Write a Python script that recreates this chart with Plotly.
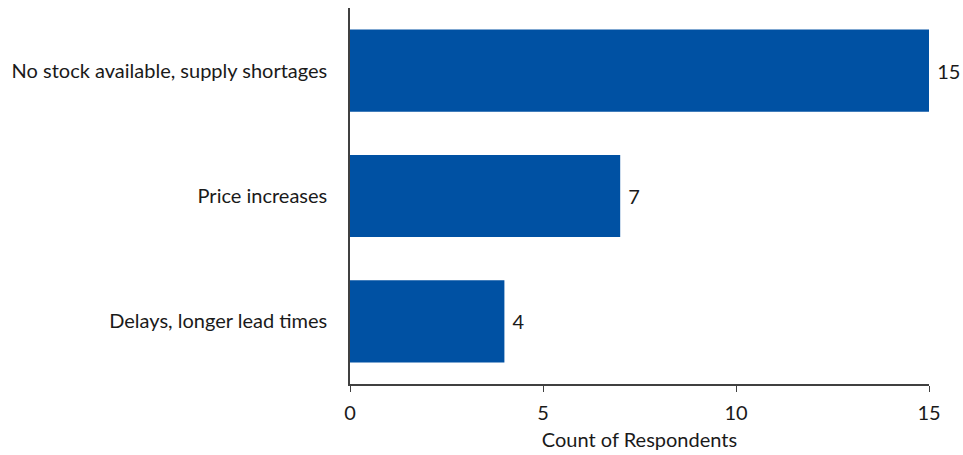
import plotly.graph_objects as go

# Survey responses: problems encountered with supply
categories = ["No stock available, supply shortages", "Price increases", "Delays, longer lead times"]
counts = [15, 7, 4]
x_ticks = [0, 5, 10, 15]

font_family = "Lato, 'Open Sans', sans-serif"
font_size = 20
text_color = "#1a1a1a"
axis_color = "#404040"

fig = go.Figure(
    go.Bar(
        x=counts,
        y=categories,
        orientation="h",
        width=0.656,
        marker=dict(color="#0051A3", line=dict(width=0)),
        text=[str(v) for v in counts],
        texttemplate=" %{text}",
        textposition="outside",
        textfont=dict(family=font_family, size=font_size, color=text_color),
        cliponaxis=False,
        hoverinfo="skip",
    )
)

fig.update_layout(
    width=963,
    height=455,
    margin=dict(l=350, r=34, t=8, b=71),
    plot_bgcolor="white",
    paper_bgcolor="white",
    font=dict(family=font_family, size=font_size, color=text_color),
    showlegend=False,
    bargap=0.344,
)

fig.update_yaxes(
    categoryorder="array",
    categoryarray=list(reversed(categories)),
    range=[-0.5, 2.5],
    showline=True,
    linecolor=axis_color,
    linewidth=1.5,
    ticks="",
    showgrid=False,
    ticklabelstandoff=17,
    tickfont=dict(family=font_family, size=font_size, color=text_color),
)

fig.update_xaxes(
    range=[0, 15],
    tickvals=x_ticks,
    showline=True,
    linecolor=axis_color,
    linewidth=1.5,
    ticks="outside",
    ticklen=6,
    tickcolor=axis_color,
    showgrid=False,
    zeroline=False,
    ticklabelstandoff=4,
    tickfont=dict(family=font_family, size=font_size, color=text_color),
    title=dict(text="Count of Respondents", font=dict(family=font_family, size=font_size, color=text_color), standoff=10),
)

fig.write_html("out.html")
